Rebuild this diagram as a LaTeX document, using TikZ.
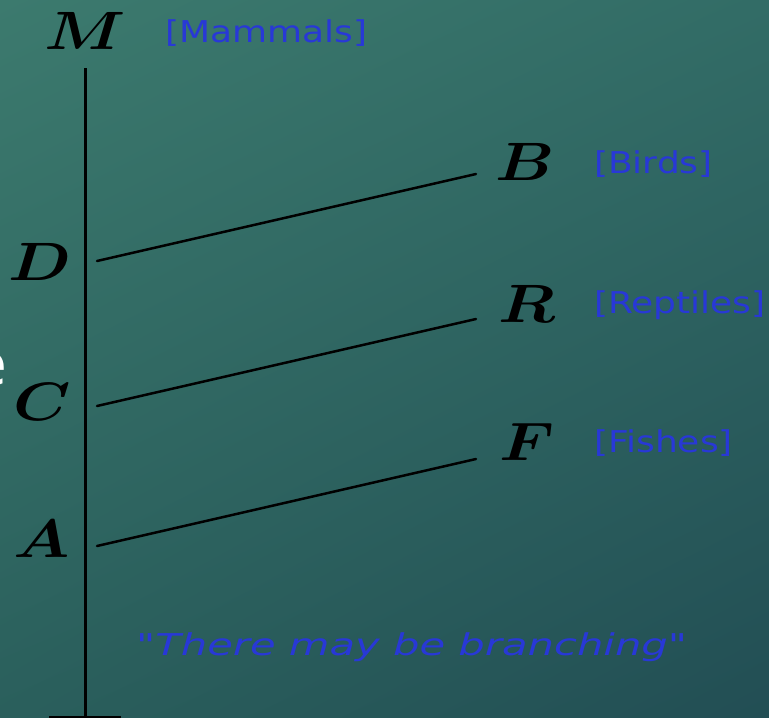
\RequirePackage{fix-cm}
\documentclass[tikz,border=0pt]{standalone}
\usepackage{graphicx}
\usepackage{fontspec}
\newfontfamily\tagfont{DejaVu Sans}
\usetikzlibrary{positioning,shadings}
\definecolor{bgtl}{RGB}{60,122,110}
\definecolor{bgtr}{RGB}{50,108,102}
\definecolor{bgbl}{RGB}{42,95,92}
\definecolor{bgbr}{RGB}{34,78,84}
\definecolor{tagblue}{RGB}{40,56,215}
\newcommand{\widen}[1]{\scalebox{1.2}[1]{#1}}

\begin{document}
\begin{tikzpicture}[x=1pt,y=-1pt,line cap=round,
  letter/.style={font=\fontsize{54}{60}\selectfont\boldmath,inner sep=0pt,anchor=base},
  tag/.style={font=\tagfont\fontsize{30}{36}\selectfont,text=tagblue,inner sep=0pt,anchor=base west},
  stem/.style={line width=3pt,line cap=butt},
  branch/.style={line width=2.5pt}]
  \shade[upper left=bgtl,upper right=bgtr,lower left=bgbl,lower right=bgbr] (0,0) rectangle (769,718);
  \useasboundingbox (0,0) rectangle (769,718);
  % main line
  \coordinate (top) at (85,68);
  \coordinate (base) at (85,717);
  \coordinate (baseL) at (49,717);
  \coordinate (baseR) at (121,717);
  \draw[stem] (top)--(base);
  \draw[stem] (baseL)--(baseR);
  \node[letter] (M) at (85,49) {\widen{$M$}};
  \node[tag] (mammals) at (165,42) {\widen{[Mammals]}};
  % left letters
  \foreach \n/\x/\y in {D/40/280,C/42/420,A/42/557}{
     \node[letter] (\n) at (\x,\y) {\widen{$\n$}};
  }
  % branches
  \foreach \n/\x/\y/\t/\ty in {B/525/180/Birds/173,R/527/322/Reptiles/313,F/527/460/Fishes/452}{
     \node[letter] (\n) at (\x,\y) {\widen{$\n$}};
     \node[tag] (\t) at (594,\ty) {\widen{[\t]}};
  }
  \foreach \n/\ya/\yb in {d/261/174,c/406/319,a/546/459}{
     \coordinate (\n0) at (97,\ya);
     \coordinate (\n1) at (476,\yb);
     \draw[branch] (\n0)--(\n1);
  }
  \node[tag,anchor=base west] (note) at (136,655) {\scalebox{1.39}[1]{\itshape "There may be branching"}};
  \node[font=\tagfont\fontsize{60}{70}\selectfont,text=white,inner sep=0pt,anchor=base east] (stray) at (8,385) {e};
\end{tikzpicture}
\end{document}
